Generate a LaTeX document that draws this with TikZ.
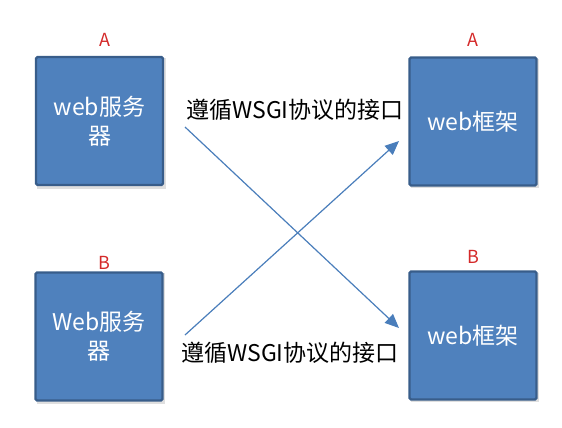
\documentclass[tikz,border=0pt]{standalone}
\usepackage{fontspec}
\setmainfont{Noto Sans CJK SC}
\usetikzlibrary{arrows.meta}
\definecolor{boxfill}{HTML}{4F81BD}
\definecolor{boxline}{HTML}{385D8A}
\definecolor{arrowc}{HTML}{4A7EBB}
\definecolor{labred}{HTML}{D42A2A}
\begin{document}
\begin{tikzpicture}[x=1pt,y=-1pt,
  box/.style={draw=boxline,line width=2.2pt,fill=boxfill,rounded corners=1.5pt,
    minimum width=127pt,minimum height=128pt,inner sep=0pt,
    text=white,font=\fontsize{23}{29}\selectfont,align=center},
  lab/.style={text=labred,font=\fontsize{18}{20}\selectfont,inner sep=0pt},
  captxt/.style={text=black,font=\fontsize{23}{26}\selectfont,inner sep=0pt},
  conn/.style={draw=arrowc,line width=1.2pt,-{Triangle[length=14pt,width=12pt]}}]
\useasboundingbox (0,0) rectangle (562,428);
\fill[gray!25] (37,58) rectangle (166,189);
\fill[gray!25] (411,59) rectangle (539,188);
\fill[gray!25] (37,273) rectangle (165,404);
\fill[gray!25] (411,273) rectangle (539,402);
\node[box] (ws1) at (99.5,121) {web服务\\器};
\node[box] (wf1) at (473,121.5) {web框架};
\node[box] (ws2) at (99,336.5) {Web服务\\器};
\node[box] (wf2) at (473,335.5) {web框架};
\node[lab] (la1) at (105,40) {A};
\node[lab] (la2) at (473,40) {A};
\node[lab] (lb1) at (104,263) {B};
\node[lab] (lb2) at (473,257) {B};
\node[captxt] (c1) at (295,110) {遵循WSGI协议的接口};
\node[captxt] (c2) at (290,353) {遵循WSGI协议的接口};
\coordinate (s1) at (185,127);
\coordinate (e1) at (399,328);
\coordinate (s2) at (185,335);
\coordinate (e2) at (399,141);
\draw[conn] (s1) -- (e1);
\draw[conn] (s2) -- (e2);
\end{tikzpicture}
\end{document}
